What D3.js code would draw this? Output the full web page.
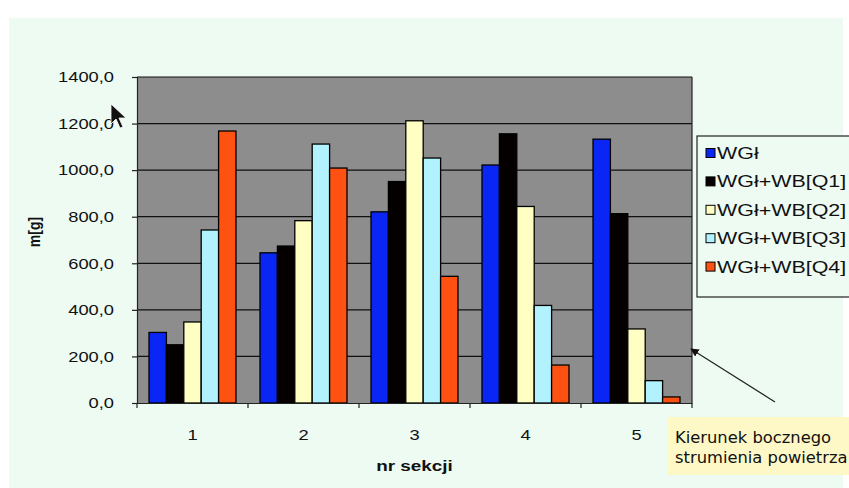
<!DOCTYPE html>
<html>
<head>
<meta charset="utf-8">
<script src="https://cdn.jsdelivr.net/npm/d3@7"></script>
<style>
  html, body { margin: 0; padding: 0; background: #ffffff; }
  svg { display: block; }
</style>
</head>
<body>
<svg id="chart" width="849" height="488"></svg>
<script>
// Mass collected per section for each air-flow configuration
const sections = ["1", "2", "3", "4", "5"];
const seriesNames = ["WGł", "WGł+WB[Q1]", "WGł+WB[Q2]", "WGł+WB[Q3]", "WGł+WB[Q4]"];
const seriesColors = ["#0a26f5", "#050000", "#ffffc4", "#b2f2ff", "#ff5212"];
const valuesWGl   = [303, 645, 821, 1022, 1133];
const valuesQ1    = [250, 674, 951, 1156, 813];
const valuesQ2    = [348, 783, 1212, 844, 318];
const valuesQ3    = [743, 1112, 1052, 419, 96];
const valuesQ4    = [1168, 1009, 544, 163, 26];
const yTicks      = [0, 200, 400, 600, 800, 1000, 1200, 1400];
const yTickLabels = ["0,0", "200,0", "400,0", "600,0", "800,0", "1000,0", "1200,0", "1400,0"];
const yTitle = "m[g]";
const xTitle = "nr sekcji";
const noteLines = ["Kierunek bocznego", "strumienia powietrza"];

const series = [valuesWGl, valuesQ1, valuesQ2, valuesQ3, valuesQ4];

const svg = d3.select("#chart");
const W = 849, H = 488;
const plot = { left: 137, right: 692, top: 77, bottom: 403 };
const SX = 1.22; // horizontal stretch applied to the lettering
const FONT = "'Liberation Sans', Arial, sans-serif";

// page background
svg.append("rect").attr("x", 9).attr("y", 18).attr("width", 834).attr("height", H - 18)
  .attr("fill", "#eefbf3");

const x = d3.scaleBand().domain(sections).range([plot.left, plot.right]);
const xInner = d3.scaleBand().domain(d3.range(series.length))
  .range([0, x.bandwidth()]).paddingOuter(0.69);
const y = d3.scaleLinear().domain([0, 1400]).range([plot.bottom, plot.top]);

// plot area
svg.append("rect")
  .attr("x", plot.left).attr("y", plot.top)
  .attr("width", plot.right - plot.left).attr("height", plot.bottom - plot.top)
  .attr("fill", "#8d8d8d");

// horizontal gridlines
svg.append("g").selectAll("line").data(yTicks.slice(1)).join("line")
  .attr("x1", plot.left).attr("x2", plot.right)
  .attr("y1", d => y(d)).attr("y2", d => y(d))
  .attr("stroke", "#111").attr("stroke-width", 1.2);

// right border of plot area
svg.append("line").attr("x1", plot.right).attr("x2", plot.right)
  .attr("y1", plot.top).attr("y2", plot.bottom).attr("stroke", "#222").attr("stroke-width", 1.2);

// bars
const groups = svg.append("g").selectAll("g").data(sections).join("g")
  .attr("transform", d => `translate(${x(d)},0)`);
groups.selectAll("rect")
  .data((s, i) => series.map((vals, k) => ({ k, v: vals[i] })))
  .join("rect")
  .attr("x", d => xInner(d.k))
  .attr("width", xInner.bandwidth())
  .attr("y", d => y(d.v))
  .attr("height", d => plot.bottom - y(d.v))
  .attr("fill", d => seriesColors[d.k])
  .attr("stroke", "#000").attr("stroke-width", 1.3);

// y axis
const yAxis = svg.append("g").attr("transform", `translate(${plot.left},0)`)
  .call(d3.axisLeft(y).tickValues(yTicks).tickFormat((d, i) => yTickLabels[i])
    .tickSize(5).tickPadding(18));
yAxis.select(".domain").attr("stroke", "#222").attr("stroke-width", 1.2);
yAxis.selectAll(".tick line").attr("stroke", "#222").attr("stroke-width", 1.2);
yAxis.selectAll(".tick text")
  .attr("font-family", FONT)
  .attr("font-size", 15).attr("fill", "#111")
  .attr("transform", function () {
    const tx = +d3.select(this).attr("x");
    return `translate(${tx},0) scale(${SX},1) translate(${-tx},0)`;
  });

// x axis
const xAxis = svg.append("g").attr("transform", `translate(0,${plot.bottom})`)
  .call(d3.axisBottom(x).tickSize(0).tickPadding(26));
xAxis.select(".domain").attr("stroke", "#222").attr("stroke-width", 1.2);
xAxis.selectAll(".tick text")
  .attr("font-family", FONT)
  .attr("font-size", 15).attr("fill", "#111")
  .attr("transform", `scale(${SX},1)`);
// section separators below the axis
svg.append("g").selectAll("line").data(d3.range(sections.length + 1)).join("line")
  .attr("x1", i => plot.left + i * x.step()).attr("x2", i => plot.left + i * x.step())
  .attr("y1", plot.bottom).attr("y2", plot.bottom + 5)
  .attr("stroke", "#222").attr("stroke-width", 1.2);

// axis titles
svg.append("text").text(xTitle)
  .attr("transform", `translate(${(plot.left + plot.right) / 2},471) scale(${SX},1)`)
  .attr("text-anchor", "middle")
  .attr("font-family", FONT)
  .attr("font-weight", "bold").attr("font-size", 15.5).attr("fill", "#111");
svg.append("text").text(yTitle)
  .attr("transform", `translate(40,232) scale(${SX},1) rotate(-90)`)
  .attr("text-anchor", "middle")
  .attr("font-family", FONT)
  .attr("font-weight", "bold").attr("font-size", 14).attr("fill", "#111");

// legend
const legend = svg.append("g").attr("transform", "translate(697,136)");
legend.append("rect").attr("x", 0).attr("y", 0).attr("width", 160).attr("height", 161)
  .attr("fill", "#eefbf3").attr("stroke", "#222").attr("stroke-width", 1.2);
const items = legend.selectAll("g.item").data(seriesNames).join("g")
  .attr("class", "item")
  .attr("transform", (d, i) => `translate(0,${17 + i * 28.4})`);
items.append("rect").attr("x", 9).attr("y", -4.5).attr("width", 9).attr("height", 9)
  .attr("fill", (d, i) => seriesColors[i]).attr("stroke", "#000").attr("stroke-width", 1);
items.append("text").text(d => d)
  .attr("transform", `translate(20,0) scale(1.3,1)`)
  .attr("dy", "0.36em")
  .attr("font-family", FONT)
  .attr("font-size", 16.5).attr("fill", "#111");

// annotation: direction of side air stream
svg.append("defs").append("marker")
  .attr("id", "arrowhead").attr("viewBox", "0 0 10 10")
  .attr("refX", 9).attr("refY", 5).attr("markerWidth", 7).attr("markerHeight", 7)
  .attr("orient", "auto")
  .append("path").attr("d", "M0,0 L10,5 L0,10 z").attr("fill", "#111");
svg.append("line").attr("x1", 775).attr("y1", 402).attr("x2", 691).attr("y2", 349)
  .attr("stroke", "#222").attr("stroke-width", 1.2).attr("marker-end", "url(#arrowhead)");
svg.append("rect").attr("x", 668).attr("y", 417).attr("width", 181).attr("height", 58)
  .attr("fill", "#fdf8c6");
svg.append("g").selectAll("text").data(noteLines).join("text")
  .text(d => d)
  .attr("transform", (d, i) => `translate(675,${443 + i * 20}) scale(1.09,1)`)
  .attr("font-family", "'DejaVu Sans', Tahoma, sans-serif")
  .attr("font-size", 15).attr("fill", "#111");

// mouse pointer resting over the y axis
svg.append("path")
  .attr("d", "M111,104 L111,124 L116,119 L120,128 L123,127 L119,118 L126,118 Z")
  .attr("fill", "#111").attr("stroke", "#fff").attr("stroke-width", 0.8);
</script>
</body>
</html>
